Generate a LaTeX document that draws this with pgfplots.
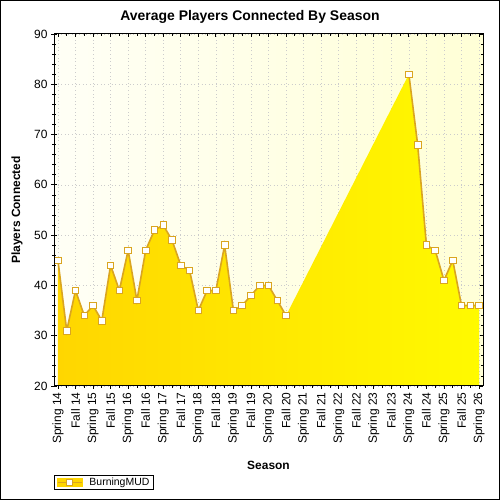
\documentclass[border=0pt]{standalone}
\usepackage{pgfplots}
\pgfplotsset{compat=1.18}
\usepackage{fontspec}
\setmainfont{Liberation Sans}
\definecolor{goldline}{RGB}{218,165,32}
\definecolor{areaL}{RGB}{255,214,0}
\definecolor{areaR}{RGB}{255,250,0}
\definecolor{bgA}{RGB}{255,255,246}
\definecolor{bgB}{RGB}{255,255,214}
\begin{document}
\begin{tikzpicture}[x=1bp,y=1bp]
\useasboundingbox (0,0) rectangle (500,500);
\fill[white] (0,0) rectangle (500,500);
\draw[black, line width=1bp] (0.5,0.5) rectangle (499.5,499.5);
\begin{axis}[
  at={(54bp,114bp)}, anchor=south west, scale only axis,
  width=429bp, height=352bp,
  xmin=-0.45, xmax=48.45, ymin=20, ymax=90,
  axis background/.style={left color=bgA, right color=bgB},
  xtick={0,2,...,48}, minor xtick={1,3,...,47}, xticklabels={},
  ytick={20,30,...,90}, minor y tick num=4, yticklabels={},
  xtick pos=right, ytick pos=both, tick align=inside,
  major tick length=3bp, minor tick length=2bp,
  tick style={black, line width=0.8bp},
  axis line style={black, line width=1bp},
  grid=major,
  major grid style={gray!40, line width=0.6bp, dash pattern=on 0.8bp off 2.8bp},
  legend style={at={(axis description cs:0,-0.2955)}, anchor=south west,
    draw=black, line width=0.8bp, font=\fontsize{10.5}{11.5}\selectfont,
    inner xsep=2.5bp, inner ysep=0.5bp},
  legend cell align=left,
]
\addplot[draw=none, left color=areaL, right color=areaR, forget plot] coordinates {
(0,45)(1,31)(2,39)(3,34)(4,36)(5,33)(6,44)(7,39)(8,47)(9,37)(10,47)(11,51)(12,52)
(13,49)(14,44)(15,43)(16,35)(17,39)(18,39)(19,48)(20,35)(21,36)(22,38)(23,40)(24,40)
(25,37)(26,34)(40,82)(41,68)(42,48)(43,47)(44,41)(45,45)(46,36)(47,36)(48,36)
} \closedcycle;
\addplot[goldline, line width=1.6bp, mark=square*,
  mark options={fill=white, draw=goldline, line width=0.8bp}, mark size=3.3bp,
  legend image code/.code={
    \fill[areaL] (0bp,-3.5bp) rectangle (24bp,3.5bp);
    \draw[goldline, line width=1.5bp] (0bp,0bp) -- (24bp,0bp);
    \draw[goldline, fill=white, line width=0.8bp] (9bp,-3bp) rectangle (15bp,3bp);
  }] coordinates {
(0,45)(1,31)(2,39)(3,34)(4,36)(5,33)(6,44)(7,39)(8,47)(9,37)(10,47)(11,51)(12,52)
(13,49)(14,44)(15,43)(16,35)(17,39)(18,39)(19,48)(20,35)(21,36)(22,38)(23,40)(24,40)
(25,37)(26,34)
};
\addlegendentry{\hspace{5bp}BurningMUD\hspace{2bp}}
\addplot[goldline, line width=1.6bp, mark=square*,
  mark options={fill=white, draw=goldline, line width=0.8bp}, mark size=3.3bp,
  forget plot] coordinates {
(40,82)(41,68)(42,48)(43,47)(44,41)(45,45)(46,36)(47,36)(48,36)
};
\end{axis}
\begin{axis}[
  at={(54bp,114bp)}, anchor=south west, scale only axis,
  width=429bp, height=352bp,
  xmin=-0.45, xmax=48.45, ymin=20, ymax=90,
  xtick={0,2,...,48}, minor xtick={1,3,...,47},
  xticklabels={Spring 14,Fall 14,Spring 15,Fall 15,Spring 16,Fall 16,Spring 17,Fall 17,Spring 18,Fall 18,Spring 19,Fall 19,Spring 20,Fall 20,Spring 21,Fall 21,Spring 22,Fall 22,Spring 23,Fall 23,Spring 24,Fall 24,Spring 25,Fall 25,Spring 26},
  ytick={20,30,...,90}, minor y tick num=4,
  xtick pos=left, ytick pos=left, tick align=outside,
  major tick length=3bp, minor tick length=2bp,
  tick style={black, line width=0.8bp},
  axis line style={black, line width=1bp},
  /pgf/number format/assume math mode=true,
  x tick label style={rotate=90, anchor=east, font=\fontsize{12}{13}\selectfont},
  y tick label style={font=\fontsize{12}{13}\selectfont},
]
\end{axis}
\node[font=\bfseries\fontsize{14}{16}\selectfont] at (250,483) {Average Players Connected By Season};
\node[font=\bfseries\fontsize{12}{14}\selectfont, rotate=90] at (17,290) {Players Connected};
\node[font=\bfseries\fontsize{12}{14}\selectfont] at (268.5,35) {Season};
\end{tikzpicture}
\end{document}
